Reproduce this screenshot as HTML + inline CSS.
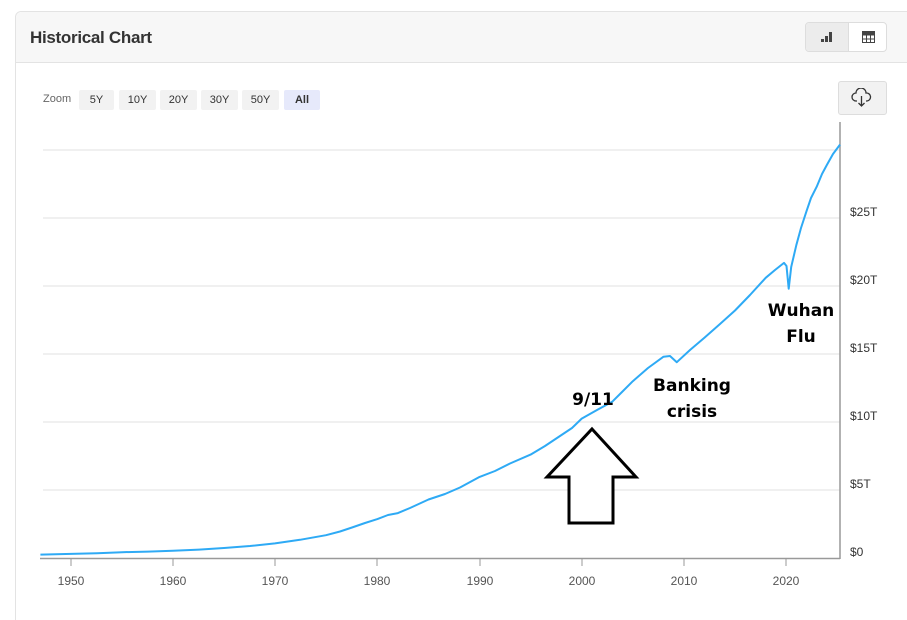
<!DOCTYPE html>
<html><head><meta charset="utf-8"><style>
html,body{margin:0;width:907px;height:619px;background:#fff;font-family:"Liberation Sans",sans-serif;overflow:hidden}
.card{position:absolute;left:15px;top:11px;width:900px;height:608px;border:1px solid #e3e3e3;border-bottom:none;border-radius:6px 6px 0 0;background:#fff;}
.hdr{position:absolute;left:0;top:0;width:100%;height:50px;background:#f7f7f7;border-bottom:1px solid #e3e3e3;border-radius:6px 6px 0 0;}
.title{position:absolute;left:14px;top:16px;font-size:17px;font-weight:bold;color:#333;letter-spacing:-0.3px}
.zb{position:absolute;top:90px;height:20px;line-height:20px;font-size:11px;color:#333;background:#f2f2f2;text-align:center;border-radius:2px}
</style></head><body>
<div class="card"><div class="hdr"><div class="title">Historical Chart</div>
<div style="position:absolute;left:789px;top:10px;width:80px;height:28px;border:1px solid #ddd;border-radius:4px;background:#fff;overflow:hidden">
<div style="position:absolute;left:0;top:0;width:42px;height:28px;background:#ececec;border-right:1px solid #ddd"></div>
<svg style="position:absolute;left:14px;top:8px" width="14" height="12"><rect x="1" y="8" width="3" height="3" fill="#444"/><rect x="5" y="5" width="3" height="6" fill="#444"/><rect x="9" y="1" width="3" height="10" fill="#444"/></svg>
<svg style="position:absolute;left:56px;top:8px" width="14" height="12"><rect x="0.5" y="0.5" width="12" height="11" fill="none" stroke="#444"/><path d="M0.5 4H12.5M0.5 8H12.5M4.5 0.5V11.5M8.5 0.5V11.5" stroke="#444"/><rect x="0.5" y="0.5" width="12" height="3" fill="#444"/></svg>
</div></div></div>
<div style="position:absolute;left:43px;top:93px;font-size:11px;color:#666">Zoom</div>
<div class="zb" style="left:79px;width:35px">5Y</div>
<div class="zb" style="left:119px;width:37px">10Y</div>
<div class="zb" style="left:160px;width:37px">20Y</div>
<div class="zb" style="left:201px;width:37px">30Y</div>
<div class="zb" style="left:242px;width:37px">50Y</div>
<div class="zb" style="left:284px;width:36px;background:#e6e9fb;font-weight:bold">All</div>
<div style="position:absolute;left:838px;top:81px;width:47px;height:32px;background:#f2f2f2;border:1px solid #ddd;border-radius:3px"></div>
<svg style="position:absolute;left:851px;top:88px" width="22" height="20"><path d="M6 13H5a4 4 0 0 1 0-8 5 5 0 0 1 10 0 3.5 3.5 0 0 1 1 8h-1" fill="none" stroke="#333" stroke-width="1.3"/><path d="M10.5 8v10M7.5 15l3 3 3-3" fill="none" stroke="#333" stroke-width="1.3"/></svg>
<svg style="position:absolute;left:0;top:0" width="907" height="619">
<g stroke="#ececec" stroke-width="1.5">
<line x1="43" x2="840" y1="150" y2="150"/><line x1="43" x2="840" y1="218" y2="218"/><line x1="43" x2="840" y1="286" y2="286"/><line x1="43" x2="840" y1="354" y2="354"/><line x1="43" x2="840" y1="422" y2="422"/><line x1="43" x2="840" y1="490" y2="490"/></g>
<line x1="840" x2="840" y1="122" y2="559" stroke="#999" stroke-width="1.5"/>
<line x1="40" x2="840" y1="558.5" y2="558.5" stroke="#999" stroke-width="1.5"/>
<g stroke="#999"><line x1="71" x2="71" y1="559" y2="566"/><line x1="173" x2="173" y1="559" y2="566"/><line x1="275" x2="275" y1="559" y2="566"/><line x1="377" x2="377" y1="559" y2="566"/><line x1="480" x2="480" y1="559" y2="566"/><line x1="582" x2="582" y1="559" y2="566"/><line x1="684" x2="684" y1="559" y2="566"/><line x1="786" x2="786" y1="559" y2="566"/></g>
<g font-size="12" fill="#555" text-anchor="middle"><text x="71" y="585">1950</text><text x="173" y="585">1960</text><text x="275" y="585">1970</text><text x="377" y="585">1980</text><text x="480" y="585">1990</text><text x="582" y="585">2000</text><text x="684" y="585">2010</text><text x="786" y="585">2020</text></g>
<g font-size="12" fill="#333"><text x="850" y="216">$25T</text><text x="850" y="284">$20T</text><text x="850" y="352">$15T</text><text x="850" y="420">$10T</text><text x="850" y="488">$5T</text><text x="850" y="556">$0</text></g>
<polyline fill="none" stroke="#2eaaf5" stroke-width="2" stroke-linejoin="round" points="40.4,554.6 71,553.9 97,553.2 122,552.2 148,551.6 173,550.7 199,549.6 224,548 250,546 275,543.4 300,539.8 326,535.2 340,531.5 352,527.5 365,523 377.4,519.1 388,515 397.9,513.1 410,508 428.5,499.5 445,494 460,487.5 479.6,476.9 495,471 510,463.5 530.6,454.6 545,446 560,436 572,428 581.7,418.6 597,410 612.4,401.6 622,392 632.8,381.2 648,368 663.5,356.7 670,356 676.8,362.2 690,350 704.4,337.7 720,324 735,310.5 750,295 765.7,277.8 775,270 784,262.9 786.5,266 788.7,288.7 791.2,267 796.3,245.2 801,228 806.5,211.2 811,198 816.7,186.7 822,174 826.9,164.9 833,154 840,144.6"/>
<polygon points="592,429 636,477 613,477 613,523 569,523 569,477 547,477" fill="#fff" stroke="#000" stroke-width="3" stroke-linejoin="miter"/>
<g font-family="DejaVu Sans,sans-serif" font-weight="bold" font-size="17" fill="#000" text-anchor="middle">
<text x="593" y="405">9/11</text><text x="692" y="391">Banking</text><text x="692" y="417">crisis</text><text x="801" y="316">Wuhan</text><text x="801" y="342">Flu</text></g>
</svg>
</body></html>
